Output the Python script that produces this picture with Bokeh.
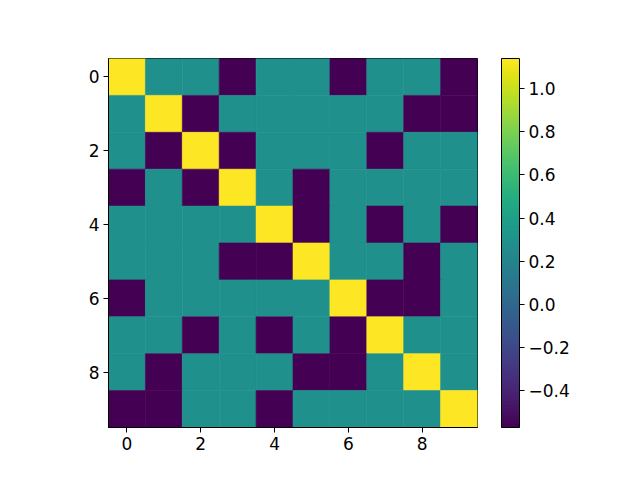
from bokeh.plotting import figure
from bokeh.models import (LinearColorMapper, ColorBar, FixedTicker, Range1d,
                          ColumnDataSource)
from bokeh.palettes import Viridis256
from bokeh.transform import linear_cmap
from bokeh.embed import file_html
from bokeh.resources import INLINE

# Matrix values (row index = y, col index = x)
H = 1.14
M = 0.285
L = -0.57
row0 = [H, M, M, L, M, M, L, M, M, L]
row1 = [M, H, L, M, M, M, M, M, L, L]
row2 = [M, L, H, L, M, M, M, L, M, M]
row3 = [L, M, L, H, M, L, M, M, M, M]
row4 = [M, M, M, M, H, L, M, L, M, L]
row5 = [M, M, M, L, L, H, M, M, L, M]
row6 = [L, M, M, M, M, M, H, L, L, M]
row7 = [M, M, L, M, L, M, L, H, M, M]
row8 = [M, L, M, M, M, L, L, M, H, M]
row9 = [L, L, M, M, L, M, M, M, M, H]
matrix = [row0, row1, row2, row3, row4, row5, row6, row7, row8, row9]
vmin, vmax = -0.571, 1.14
x_ticks = [0, 2, 4, 6, 8]
y_ticks = [0, 2, 4, 6, 8]
cbar_ticks = [-0.4, -0.2, 0.0, 0.2, 0.4, 0.6, 0.8, 1.0]

xs, ys, vs = [], [], []
for r, row in enumerate(matrix):
    for c, v in enumerate(row):
        xs.append(c)
        ys.append(r)
        vs.append(v)
src = ColumnDataSource(dict(x=xs, y=ys, v=vs))

FONT = "DejaVu Sans"
FS = "17px"
FRAME = 369

p = figure(output_backend="svg", toolbar_location=None,
           frame_width=FRAME, frame_height=FRAME,
           x_range=Range1d(-0.5, 9.5), y_range=Range1d(9.5, -0.5),
           min_border_left=108, min_border_top=58,
           min_border_right=155, min_border_bottom=45)

cmap = linear_cmap("v", Viridis256, low=vmin, high=vmax)
p.rect(x="x", y="y", width=1, height=1, source=src,
       fill_color=cmap, line_color=cmap, line_width=0.6)

p.xgrid.visible = False
p.ygrid.visible = False
p.outline_line_color = "black"
p.outline_line_width = 1
p.background_fill_color = "white"
p.border_fill_color = "white"

for ax, ticks in ((p.xaxis, x_ticks), (p.yaxis, y_ticks)):
    ax.ticker = FixedTicker(ticks=ticks)
    ax.minor_tick_line_color = None
    ax.major_tick_in = 0
    ax.major_tick_out = 5
    ax.major_tick_line_color = "black"
    ax.axis_line_color = "black"
    ax.major_label_text_font = FONT
    ax.major_label_text_font_size = FS
    ax.major_label_text_color = "black"
    ax.major_label_standoff = 4

mapper = LinearColorMapper(palette=Viridis256, low=vmin, high=vmax)
cb = ColorBar(color_mapper=mapper, width=18, height=FRAME,
              location=(FRAME + 24, 0),
              ticker=FixedTicker(ticks=cbar_ticks),
              major_label_overrides={-0.4: "\u22120.4", -0.2: "\u22120.2",
                                     0.0: "0.0", 0.2: "0.2", 0.4: "0.4",
                                     0.6: "0.6", 0.8: "0.8", 1.0: "1.0"},
              major_label_text_font=FONT, major_label_text_font_size=FS,
              major_label_text_color="black",
              major_tick_in=0, major_tick_out=5,
              major_tick_line_color="black",
              minor_tick_line_color=None,
              bar_line_color="black", bar_line_width=1,
              background_fill_alpha=0, border_line_color=None,
              padding=0, margin=0, label_standoff=4)
p.add_layout(cb, "center")

open("out.html", "w").write(file_html(p, INLINE))
